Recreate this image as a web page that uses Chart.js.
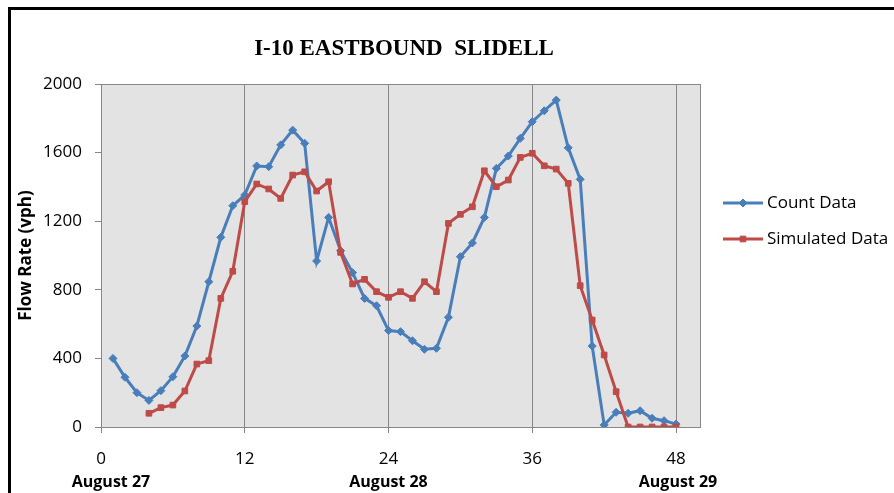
<!DOCTYPE html>
<html>
<head>
<meta charset="utf-8">
<script src="https://cdn.jsdelivr.net/npm/chart.js@4"></script>
<style>
    body { margin: 0; background: #fff; }
    #wrap { position: relative; width: 894px; height: 493px; }
    #frame { position: absolute; left: 8px; top: 7px; right: 0; bottom: 0; border-top: 3px solid #000; border-left: 3px solid #000; pointer-events: none; }
    canvas { position: absolute; left: 0; top: 0; }
</style>
</head>
<body>
<div id="wrap">
    <canvas id="flowChart" width="894" height="493"></canvas>
    <div id="frame"></div>
</div>
<script>
const chartTitle = 'I-10 EASTBOUND  SLIDELL';
const hours = [1, 2, 3, 4, 5, 6, 7, 8, 9, 10, 11, 12, 13, 14, 15, 16, 17, 18, 19, 20, 21, 22, 23, 24,
    25, 26, 27, 28, 29, 30, 31, 32, 33, 34, 35, 36, 37, 38, 39, 40, 41, 42, 43, 44, 45, 46, 47, 48];
const countData = [400, 290, 200, 155, 212, 293, 414, 589, 847, 1106, 1290, 1353, 1522, 1518, 1645, 1731,
    1654, 968, 1222, 1028, 900, 750, 707, 562, 556, 503, 453, 459, 640, 993, 1073, 1222,
    1508, 1580, 1683, 1780, 1844, 1906, 1628, 1444, 472, 12, 86, 80, 95, 51, 37, 17];
const simulatedData = [null, null, null, 80, 113, 128, 210, 367, 387, 750, 908, 1314, 1417, 1388, 1333, 1469,
    1488, 1376, 1430, 1018, 834, 861, 789, 756, 789, 750, 847, 789, 1187, 1240, 1284, 1494,
    1401, 1440, 1572, 1596, 1523, 1504, 1421, 824, 624, 420, 206, 0, 0, 0, 0, 0];
const xTicks = [0, 12, 24, 36, 48];
const dayLabels = ['August 27', 'August 28', 'August 29'];
const dayHours = [0, 24, 48];

const blue = '#4a7ebb';
const red = '#be4b48';
const axisGray = '#868686';
const textFont = '"Open Sans", sans-serif';

// Fond gris, cadre, titre, légende et dates
const decorPlugin = {
    id: 'decor',
    beforeDraw(chart) {
        const { ctx, chartArea: a } = chart;
        ctx.save();
        ctx.fillStyle = '#e3e3e3';
        ctx.fillRect(a.left, a.top, a.right - a.left, a.bottom - a.top);
        ctx.restore();
    },
    beforeDatasetsDraw(chart) {
        const { ctx, chartArea: a } = chart;
        ctx.save();
        ctx.strokeStyle = axisGray;
        ctx.lineWidth = 1;
        ctx.strokeRect(Math.round(a.left) + 0.5, Math.round(a.top) + 0.5,
            Math.round(a.right - a.left), Math.round(a.bottom - a.top));
        ctx.restore();
    },
    afterDraw(chart) {
        const ctx = chart.ctx;
        const xScale = chart.scales.x;
        ctx.save();

        // Titre
        ctx.fillStyle = '#000';
        ctx.font = 'bold 23px "Liberation Serif", serif';
        ctx.textAlign = 'center';
        ctx.textBaseline = 'middle';
        ctx.fillText(chartTitle, 404, 49);

        // Dates sous l'axe
        ctx.font = 'bold 16px ' + textFont;
        dayLabels.forEach((label, i) => {
            let x = xScale.getPixelForValue(dayHours[i]);
            if (i === 0) x += 10;
            if (i === 2) x += 2;
            ctx.fillText(label, x, 482);
        });

        // Légende
        const items = [chart.data.datasets[1], chart.data.datasets[0]];
        items.forEach((ds, i) => {
            const y = 203 + i * 36;
            ctx.strokeStyle = ds.borderColor;
            ctx.fillStyle = ds.borderColor;
            ctx.lineWidth = 3;
            ctx.beginPath();
            ctx.moveTo(723, y);
            ctx.lineTo(763, y);
            ctx.stroke();
            ctx.lineWidth = 1;
            Chart.helpers.drawPoint(ctx, { pointStyle: ds.pointStyle, rotation: 0, radius: 4, borderWidth: 1 }, 743, y);
            ctx.fillStyle = '#000';
            ctx.font = '17px ' + textFont;
            ctx.textAlign = 'left';
            ctx.fillText(ds.label, 767, y);
        });
        ctx.restore();
    }
};

const ctx = document.getElementById('flowChart').getContext('2d');
const flowChart = new Chart(ctx, {
    type: 'line',
    data: {
        datasets: [{
            label: 'Simulated Data',
            data: hours.map((h, i) => ({ x: h, y: simulatedData[i] })),
            borderColor: red,
            backgroundColor: red,
            borderWidth: 3,
            pointStyle: 'rect',
            pointRadius: 4,
            pointBorderWidth: 1,
            tension: 0,
            order: 0
        }, {
            label: 'Count Data',
            data: hours.map((h, i) => ({ x: h, y: countData[i] })),
            borderColor: blue,
            backgroundColor: blue,
            borderWidth: 3,
            pointStyle: 'rectRot',
            pointRadius: 4,
            pointBorderWidth: 1,
            tension: 0,
            order: 1
        }]
    },
    options: {
        responsive: false,
        animation: false,
        devicePixelRatio: 1,
        layout: {
            padding: { left: 0, right: 194, top: 84, bottom: 0 }
        },
        plugins: {
            legend: { display: false },
            title: { display: false },
            tooltip: { enabled: false }
        },
        scales: {
            x: {
                type: 'linear',
                min: 0,
                max: 50,
                afterBuildTicks(scale) {
                    scale.ticks = xTicks.map(v => ({ value: v }));
                },
                afterFit(scale) {
                    scale.height = 66;
                },
                ticks: {
                    color: '#000',
                    font: { family: textFont, size: 17 },
                    padding: 16,
                    maxRotation: 0,
                    callback: v => String(v)
                },
                grid: {
                    color: axisGray,
                    lineWidth: 1,
                    tickLength: 6,
                    tickColor: axisGray
                },
                border: { display: true, color: axisGray }
            },
            y: {
                min: 0,
                max: 2000,
                afterFit(scale) {
                    scale.width = 101;
                },
                ticks: {
                    stepSize: 400,
                    color: '#000',
                    font: { family: textFont, size: 17 },
                    padding: 13,
                    callback: v => String(v)
                },
                grid: {
                    drawOnChartArea: false,
                    tickLength: 6,
                    tickColor: axisGray
                },
                border: { display: true, color: axisGray },
                title: {
                    display: true,
                    text: 'Flow Rate (vph)',
                    color: '#000',
                    font: { family: textFont, size: 17, weight: 'bold' },
                    padding: { top: 16, bottom: 0 }
                }
            }
        }
    },
    plugins: [decorPlugin]
});
</script>
</body>
</html>
